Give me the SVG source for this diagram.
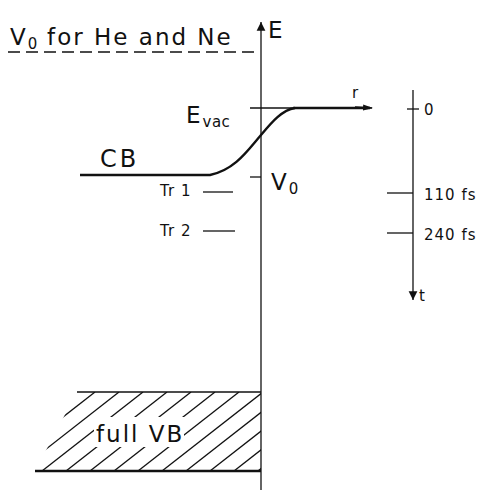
<svg xmlns="http://www.w3.org/2000/svg" width="477" height="493" viewBox="0 0 477 493">
<style>
text{font-family:"DejaVu Sans","Liberation Sans",sans-serif;fill:#111}
.t{font-size:23px;letter-spacing:2px}
.s{font-size:15px;letter-spacing:1px}
.sub{font-size:15px;letter-spacing:0.5px}
.thin{stroke:#111;stroke-width:1.3;fill:none}
.thick{stroke:#111;stroke-width:2.4;fill:none}
</style>
<defs>
<marker id="ah" viewBox="0 0 10 10" refX="9" refY="5" markerWidth="10" markerHeight="10" markerUnits="userSpaceOnUse" orient="auto"><path d="M0,2 L10,5 L0,8 Z" fill="#111"/></marker>
<marker id="ahb" viewBox="0 0 10 16" refX="10" refY="8" markerWidth="9" markerHeight="14" markerUnits="userSpaceOnUse" orient="auto"><path d="M0,3 L10,8 L0,13 Z" fill="#111"/></marker>
<clipPath id="vbclip"><polygon points="77,392 261,392 261,471 35,471"/></clipPath>
</defs>
<rect width="477" height="493" fill="#fff"/>
<g id="connectors">
<line id="energy-axis" class="thin" x1="261" y1="490" x2="261" y2="22" marker-end="url(#ahb)"/>
<line id="time-axis" class="thin" x1="413" y1="90" x2="413" y2="300" marker-end="url(#ahb)"/>
</g>
<g id="v0-he-ne">
<line class="thin" x1="8" y1="52" x2="258" y2="52" stroke-dasharray="12,6"/>
<text class="t" x="10" y="45">V<tspan class="sub" dy="4">0</tspan><tspan dy="-4"> for He and Ne</tspan></text>
</g>
<g id="e-label"><text class="t" x="268" y="38">E</text></g>
<g id="evac">
<line class="thin" x1="250" y1="108" x2="293" y2="108"/>
<path class="thick" d="M293,108 L370,108"/>
<line class="thin" x1="355" y1="107" x2="372" y2="108" marker-end="url(#ah)"/>
<text class="s" x="352" y="98">r</text>
<text class="t" x="186" y="123">E<tspan class="sub" dy="4">vac</tspan></text>
</g>
<g id="cb">
<path class="thick" d="M80,175 L210,175 C235,170 248,150 261,135 C272,122 282,110 295,108"/>
<text class="t" x="100" y="167" style="font-size:24px;letter-spacing:3px">CB</text>
</g>
<g id="v0">
<line class="thin" x1="250" y1="177" x2="261" y2="177"/>
<text class="t" x="271" y="190">V<tspan class="sub" dy="4">0</tspan></text>
</g>
<g id="tr1">
<text class="s" x="160" y="196">Tr 1</text>
<line class="thin" x1="203" y1="192" x2="233" y2="192"/>
</g>
<g id="tr2">
<text class="s" x="160" y="236">Tr 2</text>
<line class="thin" x1="203" y1="231" x2="235" y2="231"/>
</g>
<g id="t0">
<line class="thin" x1="407" y1="109" x2="419" y2="109"/>
<text class="s" x="424" y="115">0</text>
</g>
<g id="t110">
<line class="thin" x1="387" y1="193" x2="413" y2="193"/>
<text class="s" x="424" y="200">110 fs</text>
</g>
<g id="t240">
<line class="thin" x1="387" y1="233" x2="413" y2="233"/>
<text class="s" x="424" y="240">240 fs</text>
</g>
<g id="t-label"><text class="s" x="419" y="301">t</text></g>
<g id="vb">
<g clip-path="url(#vbclip)" class="thin">
<line x1="-30" y1="471" x2="71" y2="392"/>
<line x1="-6" y1="471" x2="95" y2="392"/>
<line x1="18" y1="471" x2="119" y2="392"/>
<line x1="42" y1="471" x2="143" y2="392"/>
<line x1="66" y1="471" x2="167" y2="392"/>
<line x1="90" y1="471" x2="191" y2="392"/>
<line x1="114" y1="471" x2="215" y2="392"/>
<line x1="138" y1="471" x2="239" y2="392"/>
<line x1="162" y1="471" x2="263" y2="392"/>
<line x1="186" y1="471" x2="287" y2="392"/>
<line x1="210" y1="471" x2="311" y2="392"/>
<line x1="234" y1="471" x2="335" y2="392"/>
<line x1="258" y1="471" x2="359" y2="392"/>
</g>
<rect x="94" y="417" width="90" height="30" fill="#fff"/>
<line class="thin" x1="77" y1="392" x2="261" y2="392"/>
<line class="thick" x1="35" y1="471" x2="261" y2="471"/>
<text class="t" x="96" y="442">full VB</text>
</g>
</svg>
